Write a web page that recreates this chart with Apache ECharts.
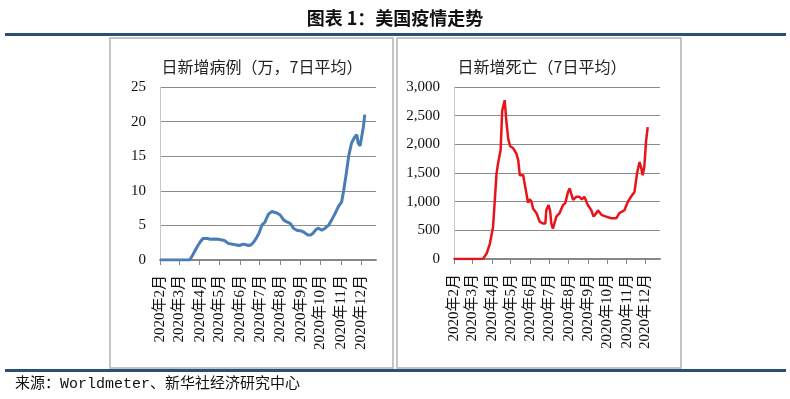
<!DOCTYPE html>
<html>
<head>
<meta charset="utf-8">
<script src="https://cdn.jsdelivr.net/npm/echarts@6/dist/echarts.min.js"></script>
<style>
html,body{margin:0;padding:0;background:#fff}
#main{width:790px;height:399px}
</style>
</head>
<body>
<div id="main"></div>
<script>
// x轴: 距2020年2月1日的天数
var month_days = [0, 29, 60, 90, 121, 151, 182, 213, 243, 274, 304];
var month_labels = ['2020年2月', '2020年3月', '2020年4月', '2020年5月', '2020年6月', '2020年7月',
    '2020年8月', '2020年9月', '2020年10月', '2020年11月', '2020年12月'];

// 日新增病例（万，7日平均）
var case_days = [0, 45, 50, 55, 60, 65, 68, 72, 76, 82, 88, 94, 98, 103, 108, 114, 120, 126, 130, 134,
    138, 142, 146, 150, 154, 159, 164, 169, 173, 177, 182, 187, 192, 197, 202, 207, 214, 219, 224, 228,
    232, 236, 240, 245, 250, 255, 260, 265, 270, 275, 278, 282, 286, 290, 295, 298, 300, 303, 305, 308, 310];
var case_values = [0, 0, 0.8, 1.7, 2.5, 3.1, 3.2, 3.1, 3.0, 3.05, 3.0, 2.9, 2.8, 2.4, 2.3, 2.2, 2.1, 2.3, 2.2, 2.1,
    2.2, 2.6, 3.2, 3.9, 5.0, 5.5, 6.6, 7.0, 6.9, 6.8, 6.5, 5.8, 5.5, 5.3, 4.6, 4.3, 4.2, 3.95, 3.6, 3.6,
    3.9, 4.4, 4.6, 4.3, 4.6, 5.0, 5.8, 6.7, 7.7, 8.4, 10.0, 12.5, 15.2, 16.9, 17.8, 18.1, 16.9, 16.5, 16.6, 19.3, 21.0];

// 日新增死亡（7日平均）
var death_days = [0, 46, 52, 57, 62, 67.5, 70, 74, 76.5, 80.5, 83, 86, 89, 94, 99, 102, 104.5, 107, 110, 112,
    115, 117.5, 120, 123, 125.5, 131, 136, 141, 145, 146.5, 150, 152.5, 154.5, 157, 162.5, 167.5, 173, 176.5, 181, 183.5,
    186, 189, 194, 199, 203, 207, 212.5, 218, 221.5, 226, 228.5, 234, 241.5, 249.5, 257.5, 262.5, 270.5, 276, 281, 286.5,
    290.5, 294.5, 297, 299.5, 302, 305, 307.5];
var death_values = [0, 0, 100, 270, 560, 1490, 1670, 1900, 2590, 2770, 2420, 2100, 1970, 1930, 1840, 1720, 1460, 1430, 1460, 1320,
    1140, 980, 1040, 1000, 880, 800, 650, 620, 620, 850, 940, 850, 620, 530, 740, 800, 940, 970, 1170, 1230,
    1140, 1030, 1085, 1085, 1040, 1085, 940, 850, 740, 800, 850, 770, 740, 710, 710, 800, 850, 1000, 1085, 1170,
    1490, 1690, 1600, 1460, 1600, 2070, 2300];

function pairs(xs, ys){
    var out = [];
    for(var i = 0; i < xs.length; i++){
        out.push([xs[i], ys[i]]);
    }
    return out;
}

var cjk = '"Noto Sans CJK SC", sans-serif';
var serif = '"Liberation Serif", "Noto Sans CJK SC", serif';

function makeXAxis(idx){
    return {
        type: 'value',
        gridIndex: idx,
        min: 0,
        max: 327,
        splitLine: {show: false},
        axisLine: {show: true, lineStyle: {color: '#888', width: 2}},
        axisTick: {show: true, customValues: month_days, length: 5, lineStyle: {color: '#888'}},
        axisLabel: {
            customValues: month_days,
            rotate: 90,
            margin: 15,
            fontFamily: serif,
            fontSize: 15,
            color: '#111',
            formatter: function(v){
                var i = month_days.indexOf(v);
                return i >= 0 ? month_labels[i] : '';
            }
        }
    };
}

function makeYAxis(idx, max, interval, fmt){
    return {
        type: 'value',
        gridIndex: idx,
        min: 0,
        max: max,
        interval: interval,
        axisLine: {show: true, lineStyle: {color: '#c8c8c8', width: 1}},
        axisTick: {show: false},
        splitLine: {show: true, lineStyle: {color: '#8c8c8c', width: 1}},
        axisLabel: {
            margin: 14,
            fontFamily: serif,
            fontSize: 15,
            color: '#111',
            formatter: fmt
        }
    };
}

var option = {
    backgroundColor: '#fff',
    animation: false,
    title: [
        {text: '图表 1：美国疫情走势', left: 'center', top: 4,
            textStyle: {fontFamily: cjk, fontSize: 18, fontWeight: 'bold', color: '#111'}},
        {text: '日新增病例（万，7日平均）', left: 257, top: 54, textAlign: 'center',
            textStyle: {fontFamily: cjk, fontSize: 16, fontWeight: 'normal', color: '#222'}},
        {text: '日新增死亡（7日平均）', left: 537, top: 54, textAlign: 'center',
            textStyle: {fontFamily: cjk, fontSize: 16, fontWeight: 'normal', color: '#222'}}
    ],
    graphic: [
        {type: 'rect', shape: {x: 5, y: 33, width: 781, height: 3}, style: {fill: '#2b4f78'}, silent: true},
        {type: 'rect', shape: {x: 110, y: 38, width: 283, height: 330}, style: {fill: 'none', stroke: '#c4c4c4', lineWidth: 2}, silent: true},
        {type: 'rect', shape: {x: 397, y: 38, width: 284, height: 330}, style: {fill: 'none', stroke: '#c4c4c4', lineWidth: 2}, silent: true},
        {type: 'rect', shape: {x: 5, y: 369, width: 781, height: 3}, style: {fill: '#2b4f78'}, silent: true},
        {type: 'text', left: 15, top: 377, style: {text: '来源：Worldmeter、新华社经济研究中心',
            font: '15px "Liberation Mono", "Noto Sans CJK SC", monospace', fill: '#111'}}
    ],
    grid: [
        {left: 160, top: 87, width: 216, height: 173},
        {left: 454, top: 87, width: 206, height: 172}
    ],
    xAxis: [makeXAxis(0), makeXAxis(1)],
    yAxis: [
        makeYAxis(0, 25, 5, function(v){ return v; }),
        makeYAxis(1, 3000, 500, function(v){ return v.toLocaleString('en-US'); })
    ],
    series: [
        {
            name: '日新增病例',
            type: 'line',
            xAxisIndex: 0,
            yAxisIndex: 0,
            showSymbol: false,
            data: pairs(case_days, case_values),
            lineStyle: {color: '#4a7db6', width: 3}
        },
        {
            name: '日新增死亡',
            type: 'line',
            xAxisIndex: 1,
            yAxisIndex: 1,
            showSymbol: false,
            data: pairs(death_days, death_values),
            lineStyle: {color: '#e8141a', width: 2.5}
        }
    ]
};

var chart = echarts.init(document.getElementById('main'));
chart.setOption(option);
</script>
</body>
</html>
